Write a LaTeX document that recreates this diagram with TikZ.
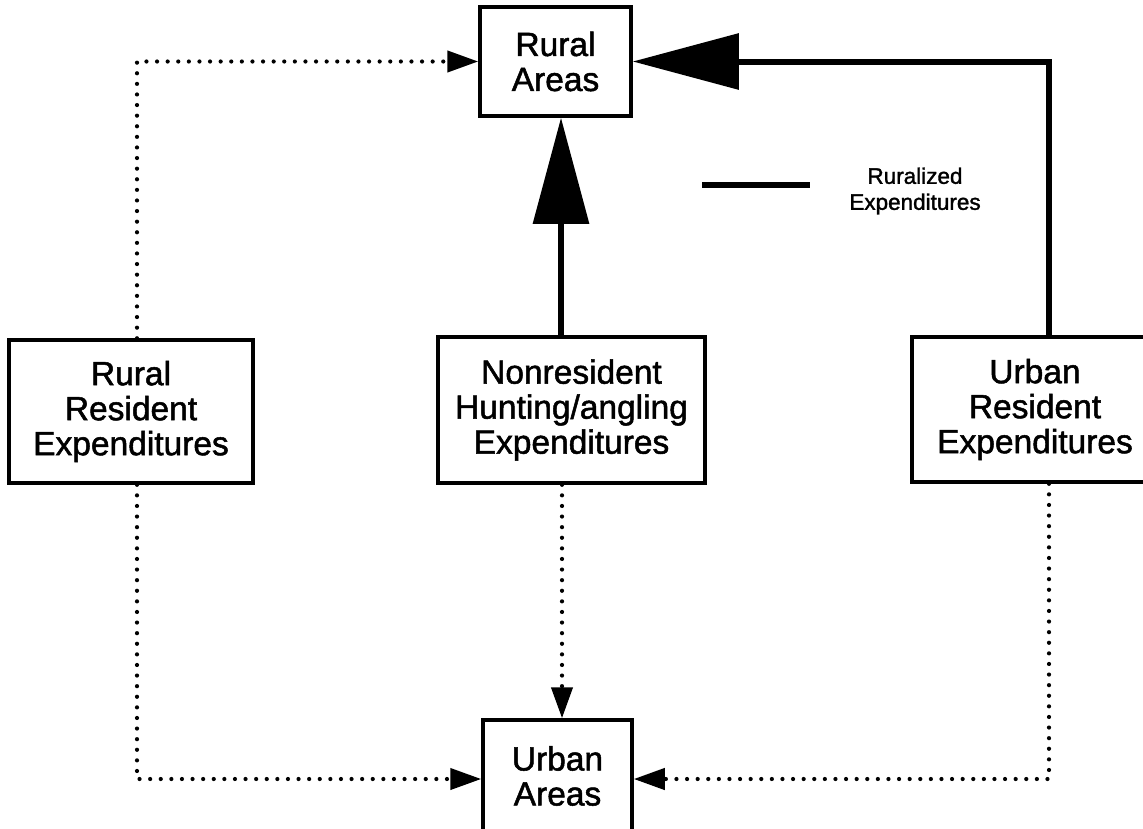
\documentclass[tikz,border=0pt]{standalone}
\usepackage{fontspec}
\setmainfont{Liberation Sans}
\newfontfamily\labelfont{Liberation Sans}[FakeBold=1.5]
\usetikzlibrary{arrows.meta,calc}
\begin{document}
\begin{tikzpicture}[x=1pt,y=-1pt,
  box/.style={draw,line width=3.5pt,fill=white,inner sep=0pt,align=center,
    font=\labelfont\fontsize{33.5}{35}\selectfont},
  solidflow/.style={line width=6pt,-{Triangle[length=106pt,width=55pt]}},
  dotflow/.style={line width=4.2pt,line cap=round,dash pattern=on 0pt off 10.6pt,
    -{Triangle[length=31pt,width=21pt]}},
  legendtext/.style={align=center,font=\labelfont\fontsize{22.5}{26}\selectfont}]
\clip (0,0) rectangle (1143,828);
\fill[white] (0,0) rectangle (1143,828);

% boxes
\node[box,minimum width=151pt,minimum height=109pt] (ra) at (555.5,61.5) {Rural\\Areas};
\node[box,minimum width=244pt,minimum height=143pt] (rr) at (131,411.5) {Rural\\Resident\\Expenditures};
\node[box,minimum width=267pt,minimum height=146pt] (nr) at (571.5,410) {Nonresident\\Hunting/angling\\Expenditures};
\node[box,minimum width=246pt,minimum height=145pt] (ur) at (1035,409.5) {Urban\\Resident\\Expenditures};
\node[box,minimum width=149pt,minimum height=112pt] (ua) at (557.5,776) {Urban\\Areas};

% ruralized expenditures (solid)
\draw[solidflow] ([xshift=-10.5pt]nr.north) -- ([xshift=5.5pt]ra.south);
\draw[solidflow,line join=miter] ([xshift=14pt]ur.north) |- (ra.east);

% flows to rural and urban areas (dotted)
\draw[dotflow] ([xshift=6pt]rr.north) |- (ra.west);
\draw[dotflow] ([xshift=-9.5pt]nr.south) -- ([xshift=4.5pt]ua.north);
\draw[dotflow] ([xshift=6pt]rr.south) |- ([yshift=-3pt]ua.west);
\draw[dotflow] ([xshift=14pt]ur.south) |- ([yshift=-3pt]ua.east);

% legend
\coordinate (lg1) at (702,185);
\coordinate (lg2) at (810,185);
\draw[line width=6pt] (lg1) -- (lg2);
\node[legendtext] (lgt) at (915,191) {Ruralized\\Expenditures};
\end{tikzpicture}
\end{document}
